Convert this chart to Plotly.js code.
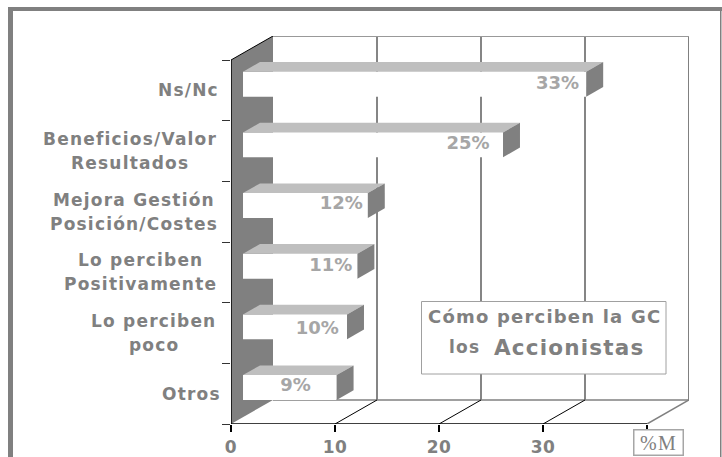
<!DOCTYPE html>
<html><head><meta charset="utf-8">
<script src="https://cdn.plot.ly/plotly-3.0.1.min.js"></script>
<style>
html,body{margin:0;padding:0;background:#fff}
.annotation-text{letter-spacing:1.2px}
.xtick text{letter-spacing:.5px}
</style></head><body><div id="chart" style="width:722px;height:457px"></div>
<script>
// Data, bottom to top
const categories = ["Otros","Lo perciben poco","Lo perciben Positivamente","Mejora Gestión Posición/Costes","Beneficios/Valor Resultados","Ns/Nc"];
const labelLines = [["Otros"],["Lo perciben","poco"],["Lo perciben","Positivamente"],["Mejora Gestión","Posición/Costes"],["Beneficios/Valor","Resultados"],["Ns/Nc"]];
const values = [9,10,11,12,25,33];
const valueText = ["9%","10%","11%","12%","25%","33%"];
const valueLabelX = [6.2,8.3,9.6,10.6,22.8,31.4];
const valueLabelY = [0.61,1.55,2.6,3.62,4.6,5.59];
const labelCenterPx = [191,153.5,140.5,134,129.5,188];
const xTicks = [0,10,20,30,40];
const xTickText = ["0","10","20","30",""];

// Oblique depth of the 3-D box (axis units at depth=1)
const DX = 42/10.4, DY = 24/60.67;
const xMax = 40, nCat = 6;
const barD0 = 0.286, barD1 = 0.69, barBase = 0.283, barH = 0.41;
const P = (x,y,d)=>[x+d*DX, y+d*DY];
const PLOT = {l:231, r:33, t:36, b:33};
const W=722, H=457, pw=W-PLOT.l-PLOT.r, ph=H-PLOT.t-PLOT.b;
const px = v=>(v-PLOT.l)/pw, py = v=>(H-PLOT.b-v)/ph;

const GREY='#808080', LIGHT='#bfbfbf', TXT='#808080', VAL='#a6a6a6', GRID='#5c5c5c';
const traces=[];
function poly(pts,fill){
  const c=pts.concat([pts[0]]);
  traces.push({type:'scatter',mode:'lines',x:c.map(p=>p[0]),y:c.map(p=>p[1]),fill:'toself',fillcolor:fill,
    line:{width:0,color:fill},hoverinfo:'skip',showlegend:false,cliponaxis:false});
}
function seg(a,b,color,width){
  traces.push({type:'scatter',mode:'lines',x:[a[0],b[0]],y:[a[1],b[1]],line:{color:color,width:width},
    hoverinfo:'skip',showlegend:false,cliponaxis:false});
}
// left wall
poly([P(0,0,0),P(0,nCat,0),P(0,nCat,1),P(0,0,1)],GREY);
// back wall
xTicks.forEach(t=>{ if(t>0&&t<xMax) seg(P(t,0,1),P(t,nCat,1),GRID,1.5); });
seg(P(xMax,0,1),P(xMax,nCat,1),GREY,2);
seg(P(0,nCat,1),P(xMax,nCat,1),'#999999',2);
seg(P(0,0,1),P(xMax,0,1),GREY,1.5);
// floor diagonals
xTicks.forEach(t=>{ if(t>0) seg(P(t,0,0),P(t,0,1),t<xMax?'#000000':GREY,t<xMax?1:1.5); });
// front axes
seg(P(0,0,0),P(0,nCat,0),'#000000',1.5);
seg(P(0,nCat,0),P(0,nCat,1),'#000000',1);
seg(P(0,0,0),P(xMax,0,0),'#000000',1.5);
// bars
values.forEach((v,i)=>{
  const y0=i+barBase, y1=y0+barH;
  poly([P(0,y0,barD0),P(v,y0,barD0),P(v,y1,barD0),P(0,y1,barD0)],'#ffffff');
  poly([P(0,y1,barD0),P(v,y1,barD0),P(v,y1,barD1),P(0,y1,barD1)],LIGHT);
  poly([P(v,y0,barD0),P(v,y0,barD1),P(v,y1,barD1),P(v,y1,barD0)],GREY);
});
// value labels
traces.push({type:'scatter',mode:'text',x:valueLabelX,y:valueLabelY,text:valueText,textposition:'middle center',
  textfont:{family:'"DejaVu Sans"',size:18,weight:700,color:VAL},hoverinfo:'skip',showlegend:false,cliponaxis:false});

const annFont=(s,c)=>({family:'"DejaVu Sans"',size:s,weight:700,color:c||TXT});
const annotations=[];
labelLines.forEach((lines,i)=>{
  lines.forEach((t,j)=>{
    annotations.push({xref:'paper',yref:'y',x:px(labelCenterPx[i]),y:i+0.5,text:t,showarrow:false,
      xanchor:'center',yanchor:'middle',yshift:lines.length>1?(j==0?12:-12):0,font:annFont(17)});
  });
});
annotations.push({xref:'paper',yref:'paper',x:px(544.5),y:py(316),text:'Cómo perciben la GC',showarrow:false,xanchor:'center',yanchor:'middle',font:annFont(18)});
annotations.push({xref:'paper',yref:'paper',x:px(447),y:py(347),text:'los',showarrow:false,xanchor:'left',yanchor:'middle',font:annFont(17)});
annotations.push({xref:'paper',yref:'paper',x:px(492),y:py(347),text:'Accionistas',showarrow:false,xanchor:'left',yanchor:'middle',font:annFont(21.5)});
annotations.push({xref:'paper',yref:'paper',x:px(658),y:py(442),text:'%M',showarrow:false,xanchor:'center',yanchor:'middle',
  width:48,height:24,bgcolor:'#ffffff',bordercolor:'#a6a6a6',borderwidth:1.5,borderpad:0,
  font:{family:'"Liberation Serif"',size:20,color:TXT}});

const rect=(x0,y0,x1,y1,fill,line,lw)=>({type:'rect',xref:'paper',yref:'paper',x0:px(x0),y0:py(y0),x1:px(x1),y1:py(y1),
  fillcolor:fill,line:{color:line||fill,width:lw||0}});
const shapes=[
  rect(8,7,13,457,GREY), rect(8,7,722,11,GREY), rect(720,7,721.5,457,GREY),
  rect(421.5,301.5,666,374,'#ffffff','#a0a0a0',1)
];

Plotly.newPlot('chart',traces,{
  width:W,height:H,margin:{l:PLOT.l,r:PLOT.r,t:PLOT.t,b:PLOT.b,pad:0},
  paper_bgcolor:'#ffffff',plot_bgcolor:'#ffffff',showlegend:false,
  xaxis:{range:[0,xMax+DX],tickmode:'array',tickvals:xTicks,ticktext:xTickText,ticks:'outside',ticklen:7,tickcolor:'#000000',tickwidth:1.5,
    showgrid:false,zeroline:false,showline:false,ticklabelstandoff:1,tickangle:0,
    tickfont:{family:'"DejaVu Sans"',size:17,weight:700,color:TXT}},
  yaxis:{range:[0,nCat+DY],tickmode:'array',tickvals:[0,1,2,3,4,5,6],ticks:'outside',ticklen:8,tickcolor:'#333333',tickwidth:1,
    showticklabels:false,showgrid:false,zeroline:false,showline:false},
  shapes:shapes,annotations:annotations
},{displayModeBar:false,staticPlot:true});
</script></body></html>
